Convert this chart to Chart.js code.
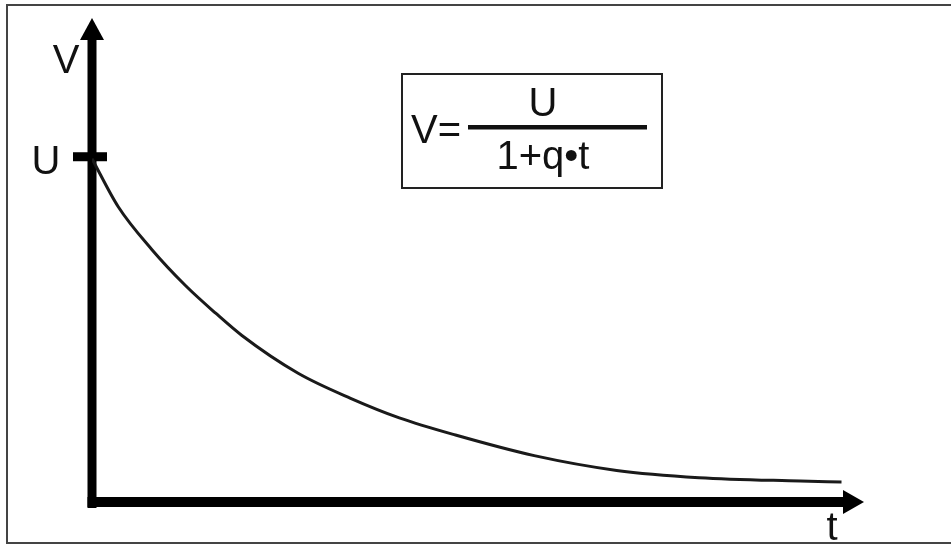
<!DOCTYPE html>
<html>
<head>
<meta charset="utf-8">
<title>V = U / (1 + q·t)</title>
<script src="https://cdn.jsdelivr.net/npm/chart.js"></script>
<style>
    html, body { margin: 0; padding: 0; background: #fff; }
    #wrap { width: 951px; height: 545px; position: relative; }
</style>
</head>
<body>
<div id="wrap"><canvas id="decayChart" width="951" height="545"></canvas></div>
<script>
/* ============================================
   DATA
   ============================================ */
const tValues = [0, 0.35, 0.8, 1.25, 1.65, 2, 2.75, 3.45, 4.1, 4.85, 5.9, 7, 8.1, 9.45, 10];
const vValues = [1.0, 0.86, 0.735, 0.63, 0.55, 0.485, 0.375, 0.302, 0.245, 0.195, 0.135, 0.092, 0.071, 0.061, 0.058];
const uLevel = 1;                 // the "U" tick on the V axis
const axisLabels = { y: 'V', x: 't', u: 'U' };
const formulaLeft = 'V=';
const formulaTop = 'U';
const formulaBottom = '1+q\u2022t';

const FONT = '40px "Liberation Sans", Arial, sans-serif';
const INK = '#111';

/* ============================================
   PLUGIN: frame, arrowed axes, labels, formula box
   ============================================ */
const diagramPlugin = {
    id: 'diagram',
    beforeDatasetsDraw(chart) {
        const { ctx, chartArea, scales } = chart;
        const x0 = scales.x.getPixelForValue(0);
        const y0 = scales.y.getPixelForValue(0);
        const top = chartArea.top;
        const right = chartArea.right;

        ctx.save();

        // outer frame (top, left, bottom)
        ctx.strokeStyle = '#444';
        ctx.lineWidth = 2;
        ctx.beginPath();
        ctx.moveTo(951, 5);
        ctx.lineTo(7, 5);
        ctx.lineTo(7, 543);
        ctx.lineTo(951, 543);
        ctx.stroke();

        ctx.fillStyle = '#000';
        // vertical axis shaft + arrow
        ctx.fillRect(x0 - 4.5, top + 20, 9, y0 - top - 14);
        ctx.beginPath();
        ctx.moveTo(x0, top);
        ctx.lineTo(x0 + 12, top + 22);
        ctx.lineTo(x0 - 12, top + 22);
        ctx.closePath();
        ctx.fill();

        // horizontal axis shaft + arrow
        ctx.fillRect(x0 - 4.5, y0 - 5, right - x0 - 16, 10);
        ctx.beginPath();
        ctx.moveTo(right, y0);
        ctx.lineTo(right - 21, y0 - 12);
        ctx.lineTo(right - 21, y0 + 12);
        ctx.closePath();
        ctx.fill();

        // U tick
        const yu = scales.y.getPixelForValue(uLevel);
        ctx.fillRect(x0 - 19, yu - 6.5, 34, 9);

        // axis labels
        ctx.fillStyle = INK;
        ctx.font = FONT;
        ctx.textAlign = 'center';
        ctx.textBaseline = 'alphabetic';
        ctx.fillText(axisLabels.y, x0 - 26, 73);
        ctx.fillText(axisLabels.u, x0 - 46, yu + 15);
        ctx.fillText(axisLabels.x, 832, 540);

        // formula box
        ctx.strokeStyle = '#222';
        ctx.lineWidth = 2;
        ctx.strokeRect(402, 74, 260, 114);
        ctx.textAlign = 'left';
        ctx.fillText(formulaLeft, 411, 143);
        ctx.fillRect(468, 125, 179, 4.5);
        ctx.textAlign = 'center';
        ctx.fillText(formulaTop, 543, 116);
        ctx.fillText(formulaBottom, 543, 169);

        ctx.restore();
    }
};

/* ============================================
   CHART
   ============================================ */
new Chart(document.getElementById('decayChart'), {
    type: 'line',
    data: {
        datasets: [{
            data: tValues.map((t, i) => ({ x: t, y: vValues[i] })),
            borderColor: '#1a1a1a',
            borderWidth: 3,
            pointRadius: 0,
            cubicInterpolationMode: 'monotone',
            fill: false
        }]
    },
    options: {
        responsive: false,
        animation: false,
        events: [],
        layout: { padding: { left: 92, right: 87, top: 18, bottom: 43 } },
        plugins: {
            legend: { display: false },
            tooltip: { enabled: false }
        },
        scales: {
            x: { type: 'linear', min: 0, max: 10.3, display: false },
            y: { type: 'linear', min: 0, max: 1.41, display: false }
        }
    },
    plugins: [diagramPlugin]
});
</script>
</body>
</html>
